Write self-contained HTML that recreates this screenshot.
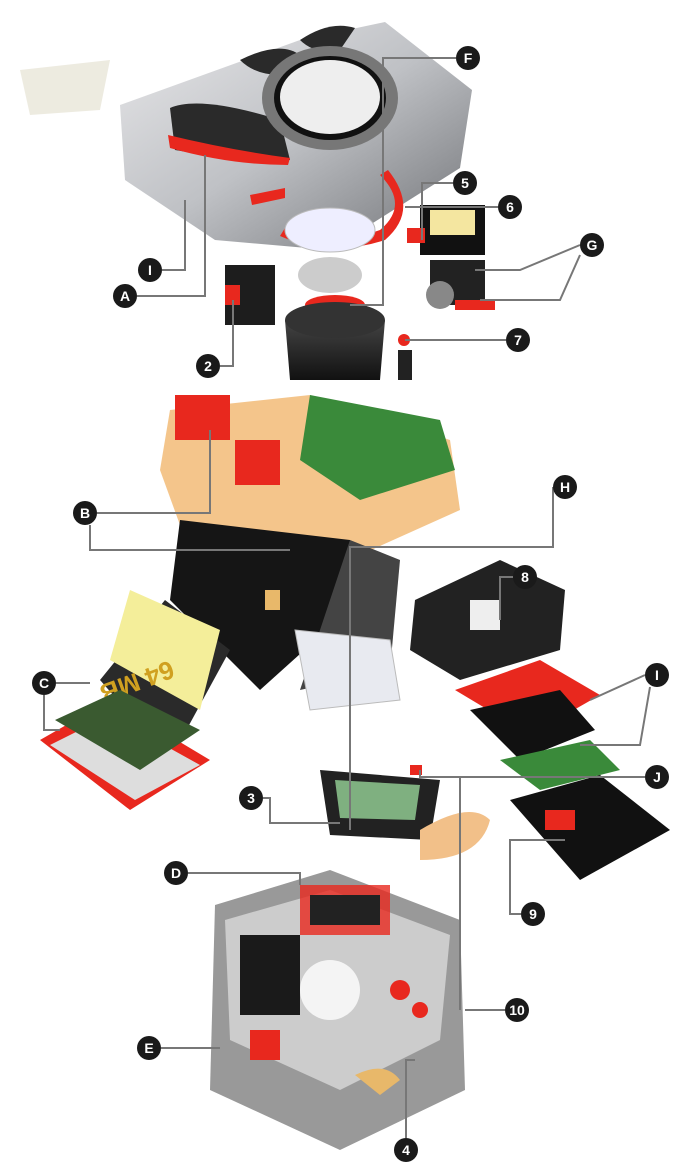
<!DOCTYPE html>
<html><head><meta charset="utf-8"><style>
html,body{margin:0;padding:0;background:#fff;width:700px;height:1176px;overflow:hidden}
svg{display:block}
.l{stroke:#777;stroke-width:2;fill:none}
.c{fill:#1a1a1a}
.t{fill:#fff;font-family:"Liberation Sans",sans-serif;font-weight:bold;font-size:14px;text-anchor:middle}
</style></head><body>
<svg width="700" height="1176" viewBox="0 0 700 1176">
<defs>
<linearGradient id="sil" x1="0" y1="0" x2="1" y2="1"><stop offset="0" stop-color="#e8e8ea"/><stop offset=".5" stop-color="#bfc1c5"/><stop offset="1" stop-color="#6e7074"/></linearGradient>
<linearGradient id="blk" x1="0" y1="0" x2="0" y2="1"><stop offset="0" stop-color="#444"/><stop offset="1" stop-color="#111"/></linearGradient>
</defs>
<!-- top body -->
<polygon points="120,105 300,40 385,22 472,90 460,168 330,250 215,240 125,180" fill="url(#sil)"/>
<polygon points="20,70 110,60 100,110 30,115" fill="#e9e6d8" opacity=".8"/>
<path d="M170,108 Q200,95 280,120 L290,160 Q230,160 175,150 Z" fill="#2a2a2a"/>
<path d="M168,135 Q230,150 290,158 L288,165 Q230,165 170,148Z" fill="#e8281e"/>
<path d="M240,60 Q280,40 300,55 L280,75 Q255,75 240,60Z" fill="#2a2a2a"/>
<path d="M300,40 Q330,20 355,28 L340,50 Q315,55 300,40Z" fill="#2a2a2a"/>
<ellipse cx="330" cy="98" rx="68" ry="52" fill="#777"/>
<ellipse cx="330" cy="98" rx="56" ry="42" fill="#111"/>
<ellipse cx="330" cy="97" rx="50" ry="37" fill="#eee"/>
<path d="M250,195 L285,188 L285,198 L252,205Z" fill="#e8281e"/>
<!-- red ring + lens -->
<path d="M285,228 Q330,248 380,230 Q410,205 380,175 L388,170 Q420,210 385,240 Q330,258 280,236Z" fill="#e8281e"/>
<ellipse cx="330" cy="230" rx="45" ry="22" fill="#eef" stroke="#bbb"/>
<ellipse cx="330" cy="275" rx="32" ry="18" fill="#ccc"/>
<ellipse cx="335" cy="305" rx="30" ry="10" fill="#e8281e"/>
<path d="M285,320 L385,320 L380,380 L290,380Z" fill="url(#blk)"/>
<ellipse cx="335" cy="320" rx="50" ry="18" fill="#333"/>
<rect x="225" y="265" width="50" height="60" fill="#1d1d1d"/>
<rect x="225" y="285" width="15" height="20" fill="#e8281e"/>
<!-- motors -->
<rect x="420" y="205" width="65" height="50" fill="#111"/><rect x="430" y="210" width="45" height="25" fill="#f4e6a0"/>
<rect x="407" y="228" width="18" height="15" fill="#e8281e"/>
<rect x="430" y="260" width="55" height="45" fill="#222"/><ellipse cx="440" cy="295" rx="14" ry="14" fill="#888"/>
<rect x="455" y="300" width="40" height="10" fill="#e8281e"/>
<circle cx="404" cy="340" r="6" fill="#e8281e"/><rect x="398" y="350" width="14" height="30" fill="#222"/>
<!-- PCB -->
<polygon points="170,410 310,395 450,440 460,510 360,555 180,525 160,470" fill="#f2bb77" opacity=".85"/>
<polygon points="310,395 440,420 455,470 360,500 300,460" fill="#3a8a3a"/>
<rect x="235" y="440" width="45" height="45" fill="#e8281e"/>
<rect x="175" y="395" width="55" height="45" fill="#e8281e"/>
<polygon points="180,520 350,540 360,600 260,690 170,600" fill="#151515"/>
<polygon points="350,540 400,560 390,670 300,690" fill="#444"/>
<rect x="265" y="590" width="15" height="20" fill="#e8b86a"/>
<!-- memory card -->
<polygon points="100,680 165,600 230,650 170,760" fill="#2a2a2a"/>
<polygon points="110,660 130,590 220,630 200,710" fill="#f4ee9a"/>
<text x="170" y="660" font-family="Liberation Sans" font-size="26" font-weight="bold" fill="#d0a020" transform="rotate(160 170 660)">64 MB</text>
<polygon points="40,740 110,700 210,760 130,810" fill="#e8281e"/>
<polygon points="50,745 110,715 200,765 135,800" fill="#ddd"/>
<polygon points="55,720 120,690 200,730 140,770" fill="#3a5a30"/>
<!-- frame/LCD -->
<polygon points="295,630 390,640 400,700 310,710" fill="#e8eaf0" stroke="#bbb"/>
<polygon points="320,770 440,780 430,840 330,835" fill="#222"/>
<polygon points="335,780 420,785 415,820 340,818" fill="#7fb080"/>
<path d="M420,830 Q470,800 490,820 Q480,860 420,860Z" fill="#f2c089"/>
<rect x="410" y="765" width="12" height="10" fill="#e8281e"/>
<!-- battery & plates -->
<polygon points="415,600 500,560 565,590 560,650 460,680 410,650" fill="#222"/>
<rect x="470" y="600" width="30" height="30" fill="#eee"/>
<polygon points="455,690 540,660 600,695 530,735" fill="#e8281e"/>
<polygon points="470,710 560,690 595,730 520,760" fill="#111"/>
<polygon points="500,760 590,740 620,770 540,790" fill="#3a8a3a"/>
<polygon points="510,800 600,775 670,830 580,880" fill="#111"/>
<rect x="545" y="810" width="30" height="20" fill="#e8281e"/>
<!-- bottom body -->
<polygon points="215,905 330,870 460,920 465,1090 340,1150 210,1090" fill="#999"/>
<polygon points="225,920 330,890 450,935 440,1040 340,1090 230,1040" fill="#ccc"/>
<rect x="240" y="935" width="60" height="80" fill="#1a1a1a"/>
<rect x="300" y="885" width="90" height="50" fill="#e8281e" opacity=".8"/>
<rect x="310" y="895" width="70" height="30" fill="#222"/>
<circle cx="330" cy="990" r="30" fill="#f4f4f4"/>
<circle cx="400" cy="990" r="10" fill="#e8281e"/><circle cx="420" cy="1010" r="8" fill="#e8281e"/>
<rect x="250" y="1030" width="30" height="30" fill="#e8281e"/>
<path d="M355,1075 Q385,1060 400,1080 L380,1095Z" fill="#e8b86a"/>
<!-- leader lines -->
<path class="l" d="M456,58H383V305H350"/>
<path class="l" d="M453,183H422V240"/>
<path class="l" d="M498,207H405"/>
<path class="l" d="M162,270H185V200"/>
<path class="l" d="M137,296H205V155"/>
<path class="l" d="M580,245L520,270H475M580,255L560,300H480"/>
<path class="l" d="M220,366H233V300"/>
<path class="l" d="M506,340H405"/>
<path class="l" d="M97,513H210V430M90,525V550H290"/>
<path class="l" d="M553,487V547H350V830"/>
<path class="l" d="M513,577H500V620"/>
<path class="l" d="M56,683H90M44,695V730H60"/>
<path class="l" d="M645,675L590,700M650,687L640,745H580"/>
<path class="l" d="M645,777H420V770M460,777V1010"/>
<path class="l" d="M263,798H270V823H340"/>
<path class="l" d="M188,873H300V885"/>
<path class="l" d="M521,914H510V840H565"/>
<path class="l" d="M505,1010H465"/>
<path class="l" d="M161,1048H220"/>
<path class="l" d="M406,1138V1060H415"/>
<!-- labels -->
<g>
<circle class="c" cx="468" cy="58" r="12"/><text class="t" x="468" y="63">F</text>
<circle class="c" cx="465" cy="183" r="12"/><text class="t" x="465" y="188">5</text>
<circle class="c" cx="510" cy="207" r="12"/><text class="t" x="510" y="212">6</text>
<circle class="c" cx="150" cy="270" r="12"/><text class="t" x="150" y="275">I</text>
<circle class="c" cx="592" cy="245" r="12"/><text class="t" x="592" y="250">G</text>
<circle class="c" cx="125" cy="296" r="12"/><text class="t" x="125" y="301">A</text>
<circle class="c" cx="208" cy="366" r="12"/><text class="t" x="208" y="371">2</text>
<circle class="c" cx="518" cy="340" r="12"/><text class="t" x="518" y="345">7</text>
<circle class="c" cx="85" cy="513" r="12"/><text class="t" x="85" y="518">B</text>
<circle class="c" cx="565" cy="487" r="12"/><text class="t" x="565" y="492">H</text>
<circle class="c" cx="525" cy="577" r="12"/><text class="t" x="525" y="582">8</text>
<circle class="c" cx="44" cy="683" r="12"/><text class="t" x="44" y="688">C</text>
<circle class="c" cx="657" cy="675" r="12"/><text class="t" x="657" y="680">I</text>
<circle class="c" cx="657" cy="777" r="12"/><text class="t" x="657" y="782">J</text>
<circle class="c" cx="251" cy="798" r="12"/><text class="t" x="251" y="803">3</text>
<circle class="c" cx="176" cy="873" r="12"/><text class="t" x="176" y="878">D</text>
<circle class="c" cx="533" cy="914" r="12"/><text class="t" x="533" y="919">9</text>
<circle class="c" cx="517" cy="1010" r="12"/><text class="t" x="517" y="1015" font-size="12">10</text>
<circle class="c" cx="149" cy="1048" r="12"/><text class="t" x="149" y="1053">E</text>
<circle class="c" cx="406" cy="1150" r="12"/><text class="t" x="406" y="1155">4</text>
</g>
</svg>
</body></html>
